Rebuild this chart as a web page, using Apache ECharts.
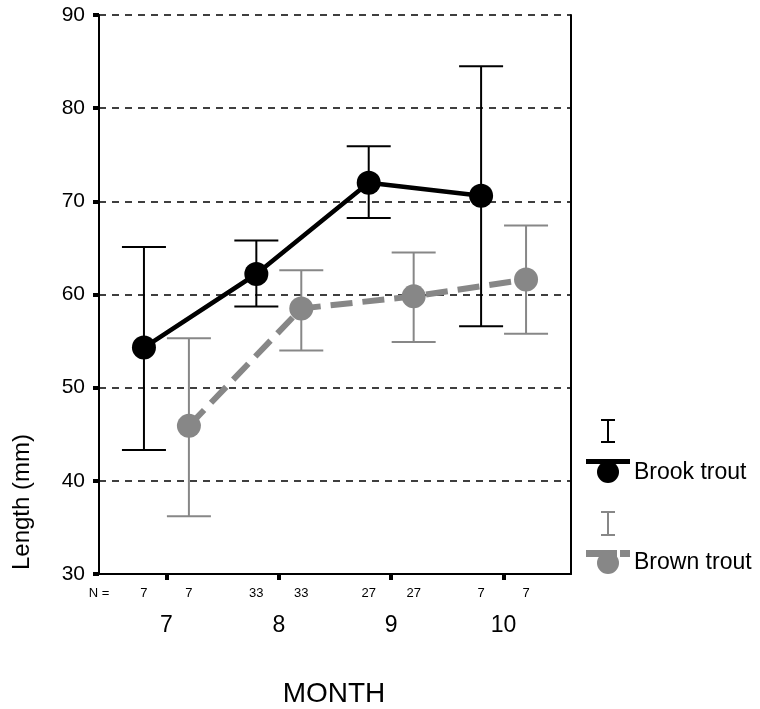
<!DOCTYPE html>
<html>
<head>
<meta charset="utf-8">
<script src="https://cdn.jsdelivr.net/npm/echarts@6/dist/echarts.min.js"></script>
<style>
    html, body { margin: 0; padding: 0; background: #fff; }
    #chart { width: 760px; height: 709px; }
</style>
</head>
<body>
<div id="chart"></div>
<script>
// data
const months = [7, 8, 9, 10];
const brookMean = [54.3, 62.2, 72.0, 70.6];
const brookLow = [43.3, 58.7, 68.2, 56.6];
const brookHigh = [65.1, 65.8, 75.9, 84.5];
const brownMean = [45.9, 58.5, 59.8, 61.6];
const brownLow = [36.2, 54.0, 54.9, 55.8];
const brownHigh = [55.3, 62.6, 64.5, 67.4];
const nBrook = [7, 33, 27, 7];
const nBrown = [7, 33, 27, 7];
const yTicks = [30, 40, 50, 60, 70, 80, 90];

const FONT = '"Liberation Sans", Arial, sans-serif';
const GRAY = '#878787';
const SHIFT = 0.2; // brook drawn left of the month, brown to the right

const brookX = months.map(m => m - SHIFT);
const brownX = months.map(m => m + SHIFT);

// N = labels under the axis
const nLabels = { 64: 'N =' };
months.forEach((m, i) => {
    nLabels[Math.round(brookX[i] * 10)] = String(nBrook[i]);
    nLabels[Math.round(brownX[i] * 10)] = String(nBrown[i]);
});
const nPositions = [6.4].concat(brookX, brownX);

function errorBar(color) {
    return function (params, api) {
        const x = api.value(0);
        const top = api.coord([x, api.value(2)]);
        const bot = api.coord([x, api.value(1)]);
        const half = 22;
        const style = { stroke: color, lineWidth: 2 };
        return {
            type: 'group',
            children: [
                { type: 'line', shape: { x1: top[0], y1: top[1], x2: bot[0], y2: bot[1] }, style: style },
                { type: 'line', shape: { x1: top[0] - half, y1: top[1], x2: top[0] + half, y2: top[1] }, style: style },
                { type: 'line', shape: { x1: bot[0] - half, y1: bot[1], x2: bot[0] + half, y2: bot[1] }, style: style }
            ]
        };
    };
}

const chart = echarts.init(document.getElementById('chart'));

chart.setOption({
    animation: false,
    backgroundColor: '#fff',
    grid: {
        left: 99,
        right: 189,
        top: 15,
        bottom: 135
    },
    xAxis: [
        {
            type: 'value',
            min: 6.4,
            max: 10.6,
            splitLine: { show: false },
            axisLine: { lineStyle: { color: '#000', width: 2 } },
            axisTick: {
                show: true,
                length: 6,
                customValues: months,
                lineStyle: { color: '#000', width: 4 }
            },
            axisLabel: {
                customValues: months,
                margin: 40,
                color: '#000',
                fontSize: 23,
                fontFamily: FONT
            }
        },
        {
            type: 'value',
            position: 'bottom',
            min: 6.4,
            max: 10.6,
            splitLine: { show: false },
            axisLine: { show: false },
            axisTick: { show: false },
            axisLabel: {
                customValues: nPositions,
                margin: 13,
                color: '#000',
                fontSize: 13,
                fontFamily: FONT,
                formatter: v => nLabels[Math.round(v * 10)] || ''
            }
        }
    ],
    yAxis: [
        {
            type: 'value',
            min: yTicks[0],
            max: yTicks[yTicks.length - 1],
            interval: 10,
            axisLine: { show: true, lineStyle: { color: '#000', width: 2 } },
            axisTick: { show: true, length: 6, lineStyle: { color: '#000', width: 4 } },
            axisLabel: {
                margin: 14,
                color: '#000',
                fontSize: 21,
                fontFamily: FONT
            },
            splitLine: {
                show: true,
                lineStyle: { color: '#000', width: 1.5, type: [7, 6] }
            }
        },
        {
            type: 'value',
            position: 'right',
            min: yTicks[0],
            max: yTicks[yTicks.length - 1],
            axisLine: { show: true, lineStyle: { color: '#000', width: 2 } },
            axisTick: { show: false },
            axisLabel: { show: false },
            splitLine: { show: false }
        }
    ],
    series: [
        {
            name: 'Brook error',
            type: 'custom',
            z: 2,
            renderItem: errorBar('#000'),
            data: brookX.map((x, i) => [x, brookLow[i], brookHigh[i]])
        },
        {
            name: 'Brown error',
            type: 'custom',
            z: 2,
            renderItem: errorBar(GRAY),
            data: brownX.map((x, i) => [x, brownLow[i], brownHigh[i]])
        },
        {
            name: 'Brook trout',
            type: 'line',
            z: 3,
            symbol: 'circle',
            symbolSize: 24,
            color: '#000',
            lineStyle: { color: '#000', width: 4.5 },
            itemStyle: { color: '#000' },
            data: brookX.map((x, i) => [x, brookMean[i]])
        },
        {
            name: 'Brown trout',
            type: 'line',
            z: 4,
            symbol: 'circle',
            symbolSize: 24,
            color: GRAY,
            lineStyle: { color: GRAY, width: 6, type: [22, 10] },
            itemStyle: { color: GRAY },
            data: brownX.map((x, i) => [x, brownMean[i]])
        }
    ],
    graphic: [
        {
            type: 'text',
            x: 22,
            y: 502,
            rotation: Math.PI / 2,
            style: {
                text: 'Length (mm)',
                font: '24px ' + FONT,
                fill: '#000',
                align: 'center',
                verticalAlign: 'middle'
            }
        },
        {
            type: 'text',
            x: 334,
            y: 694,
            style: {
                text: 'MONTH',
                font: '28px ' + FONT,
                fill: '#000',
                align: 'center',
                verticalAlign: 'middle'
            }
        },
        // legend: brook trout
        { type: 'line', shape: { x1: 608, y1: 420, x2: 608, y2: 442 }, style: { stroke: '#000', lineWidth: 2 } },
        { type: 'line', shape: { x1: 601, y1: 420, x2: 615, y2: 420 }, style: { stroke: '#000', lineWidth: 2 } },
        { type: 'line', shape: { x1: 601, y1: 442, x2: 615, y2: 442 }, style: { stroke: '#000', lineWidth: 2 } },
        { type: 'circle', shape: { cx: 608, cy: 472, r: 11 }, style: { fill: '#000' } },
        { type: 'rect', shape: { x: 586, y: 459, width: 44, height: 5 }, style: { fill: '#000' } },
        {
            type: 'text',
            x: 634,
            y: 473,
            style: { text: 'Brook trout', font: '23px ' + FONT, fill: '#000', verticalAlign: 'middle' }
        },
        // legend: brown trout
        { type: 'line', shape: { x1: 608, y1: 512, x2: 608, y2: 535 }, style: { stroke: GRAY, lineWidth: 2 } },
        { type: 'line', shape: { x1: 601, y1: 512, x2: 615, y2: 512 }, style: { stroke: GRAY, lineWidth: 2 } },
        { type: 'line', shape: { x1: 601, y1: 535, x2: 615, y2: 535 }, style: { stroke: GRAY, lineWidth: 2 } },
        { type: 'circle', shape: { cx: 608, cy: 563, r: 11 }, style: { fill: GRAY } },
        { type: 'rect', shape: { x: 586, y: 550, width: 31, height: 7 }, style: { fill: GRAY } },
        { type: 'rect', shape: { x: 620, y: 550, width: 10, height: 7 }, style: { fill: GRAY } },
        {
            type: 'text',
            x: 634,
            y: 563,
            style: { text: 'Brown trout', font: '23px ' + FONT, fill: '#000', verticalAlign: 'middle' }
        }
    ]
});
</script>
</body>
</html>
